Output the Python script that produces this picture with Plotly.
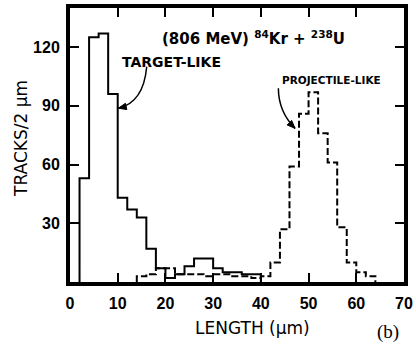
import math
import plotly.graph_objects as go

# ---- data (bins of 2 µm) ----
bin_width = 2
target_left = [2, 4, 6, 8, 10, 12, 14, 16, 18, 20, 22, 24, 26, 28, 30, 32, 34, 36, 38]
target_counts = [53, 125, 127, 96, 43, 37, 33, 17, 7, 2, 4, 8, 12, 12, 7, 5, 5, 4, 4]

proj_left = [14, 16, 18, 20, 22, 24, 26, 28, 30, 32, 34, 36, 38, 40, 42, 44, 46, 48, 50, 52, 54, 56, 58, 60, 62]
proj_counts = [3, 4, 7, 7, 4, 4, 4, 3, 4, 4, 3, 3, 2, 3, 10, 27, 59, 86, 97, 76, 61, 28, 10, 5, 3]

x_ticks = [0, 10, 20, 30, 40, 50, 60, 70]
y_ticks = [30, 60, 90, 120]

X_RANGE = [0, 70]
Y_RANGE = [0, 140]
W, H = 416, 345
M = dict(l=70, r=12, t=8, b=63)
PX_X = (W - M["l"] - M["r"]) / (X_RANGE[1] - X_RANGE[0])
PX_Y = (H - M["t"] - M["b"]) / (Y_RANGE[1] - Y_RANGE[0])


def steps(lefts, counts, w):
    xs, ys = [lefts[0]], [0]
    for l, c in zip(lefts, counts):
        xs += [l, l + w]
        ys += [c, c]
    xs.append(lefts[-1] + w)
    ys.append(0)
    return xs, ys


def curved_arrow(start, ctrl, tip, head_len=8, head_half=3.2):
    """Quadratic curve plus a triangular head, in data coords."""
    curve = dict(type="path", xref="x", yref="y",
                 path=f"M {start[0]},{start[1]} Q {ctrl[0]},{ctrl[1]} {tip[0]},{tip[1]}",
                 line=dict(color="black", width=1.5))
    dx = (tip[0] - ctrl[0]) * PX_X
    dy = (tip[1] - ctrl[1]) * PX_Y
    n = math.hypot(dx, dy)
    ux, uy = dx / n, dy / n
    bx, by = -ux * head_len, -uy * head_len
    nx, ny = -uy * head_half, ux * head_half
    p1 = (tip[0] + (bx + nx) / PX_X, tip[1] + (by + ny) / PX_Y)
    p2 = (tip[0] + (bx - nx) / PX_X, tip[1] + (by - ny) / PX_Y)
    head = dict(type="path", xref="x", yref="y",
                path=f"M {tip[0]},{tip[1]} L {p1[0]},{p1[1]} L {p2[0]},{p2[1]} Z",
                fillcolor="black", line=dict(color="black", width=1))
    return [curve, head]


tx, ty = steps(target_left, target_counts, bin_width)
px, py = steps(proj_left, proj_counts, bin_width)

fig = go.Figure()
fig.add_trace(go.Scatter(x=px, y=py, mode="lines",
                         line=dict(color="black", width=2, dash="7px,3px"),
                         hoverinfo="skip", showlegend=False))
fig.add_trace(go.Scatter(x=tx, y=ty, mode="lines",
                         line=dict(color="black", width=2),
                         hoverinfo="skip", showlegend=False))

tickfont = dict(family="Liberation Sans", size=16, color="black", weight="bold")
fig.update_xaxes(range=X_RANGE, tickvals=x_ticks, ticks="inside", ticklen=9, tickwidth=1.5,
                 tickcolor="black", showline=True, linewidth=4, linecolor="black",
                 mirror="ticks", showgrid=False, zeroline=False, tickfont=tickfont,
                 ticklabelstandoff=4)
fig.update_yaxes(range=Y_RANGE, tickvals=y_ticks, ticks="inside", ticklen=9, tickwidth=1.5,
                 tickcolor="black", showline=True, linewidth=4, linecolor="black",
                 mirror="ticks", showgrid=False, zeroline=False, tickfont=tickfont,
                 ticklabelstandoff=3)

lab = dict(family="DejaVu Sans", color="black", weight="bold")
ann = [
    dict(x=38.4, y=124.7, xref="x", yref="y", showarrow=False,
         text="(806 MeV) <sup>84</sup>Kr + <sup>238</sup>U",
         font=dict(size=15, **lab)),
    dict(x=21.2, y=112.4, xref="x", yref="y", showarrow=False,
         text="TARGET-LIKE", font=dict(size=14, **lab)),
    dict(x=54.7, y=103.2, xref="x", yref="y", showarrow=False,
         text="PROJECTILE-LIKE", font=dict(size=10.5, **lab)),
    # axis titles
    dict(x=-0.147, y=0.5255, xref="paper", yref="paper", showarrow=False,
         text="TRACKS/2 µm", textangle=-90, xanchor="center", yanchor="middle",
         font=dict(family="DejaVu Sans", size=17, color="#000000")),
    dict(x=0.545, y=-0.168, xref="paper", yref="paper", showarrow=False,
         text="LENGTH (µm)", xanchor="center", yanchor="middle",
         font=dict(family="DejaVu Sans", size=17, color="#000000")),
    dict(x=0.952, y=-0.182, xref="paper", yref="paper", showarrow=False,
         text="(b)", xanchor="center", yanchor="middle",
         font=dict(family="Liberation Serif", size=19, color="#000000")),
]

shapes = (curved_arrow((16.08, 110.0), (15.4, 91.7), (10.13, 88.8))
          + curved_arrow((43.67, 98.98), (43.69, 87.0), (47.17, 78.5)))

fig.update_layout(template="none", width=W, height=H, margin=M,
                  plot_bgcolor="white", paper_bgcolor="white",
                  annotations=ann, shapes=shapes, showlegend=False)

fig.write_html("out.html")
